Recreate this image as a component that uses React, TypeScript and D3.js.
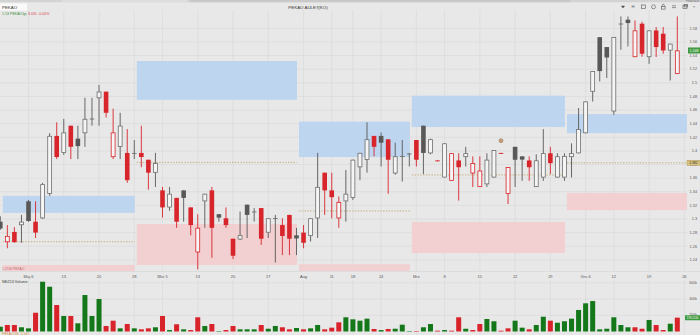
import React from "react";
import * as d3 from "d3";

// ---- data ----
const opens = [
  1.296, 1.266, 1.281, 1.291, 1.326, 1.296, 1.301, 1.337, 1.422, 1.397,
  1.437, 1.418, 1.426, 1.4465, 1.4775, 1.487, 1.391, 1.406, 1.397, 1.3965,
  1.397, 1.387, 1.368, 1.342, 1.317, 1.331, 1.342, 1.317, 1.251, 1.326,
  1.342, 1.307, 1.301, 1.271, 1.27, 1.321, 1.31, 1.316, 1.28, 1.3006,
  1.291, 1.306, 1.276, 1.28, 1.275, 1.301, 1.368, 1.342, 1.301, 1.326,
  1.331, 1.376, 1.387, 1.422, 1.422, 1.417, 1.367, 1.3918, 1.3958, 1.416,
  1.437, 1.3965, 1.386, 1.361, 1.356, 1.386, 1.391, 1.367, 1.347, 1.351,
  1.361, 1.397, 1.337, 1.406, 1.392, 1.386, 1.347, 1.361, 1.3965, 1.361,
  1.361, 1.391, 1.3965, 1.426, 1.487, 1.567, 1.5525, 1.458, 1.5865, 1.5927,
  1.5378, 1.5868, 1.5378, 1.5769, 1.5721, 1.5475, 1.5132,
];
const highs = [
  1.304, 1.291, 1.288, 1.306, 1.328, 1.326, 1.353, 1.426, 1.442, 1.447,
  1.437, 1.437, 1.478, 1.478, 1.497, 1.487, 1.462, 1.456, 1.432, 1.416,
  1.437, 1.387, 1.397, 1.347, 1.347, 1.331, 1.342, 1.317, 1.307, 1.337,
  1.347, 1.307, 1.317, 1.271, 1.311, 1.321, 1.316, 1.316, 1.301, 1.306,
  1.301, 1.306, 1.287, 1.291, 1.301, 1.397, 1.368, 1.368, 1.333, 1.372,
  1.387, 1.397, 1.442, 1.422, 1.427, 1.417, 1.412, 1.416, 1.397, 1.416,
  1.437, 1.418, 1.3865, 1.411, 1.3965, 1.3965, 1.406, 1.392, 1.392, 1.3965,
  1.401, 1.3972, 1.376, 1.406, 1.392, 1.392, 1.395, 1.432, 1.406, 1.3965,
  1.3965, 1.411, 1.463, 1.4725, 1.517, 1.567, 1.5525, 1.567, 1.5975, 1.5975,
  1.5916, 1.5897, 1.5769, 1.5819, 1.5819, 1.5574, 1.5975,
];
const lows = [
  1.284, 1.257, 1.265, 1.265, 1.296, 1.272, 1.3, 1.334, 1.388, 1.394,
  1.388, 1.388, 1.406, 1.437, 1.437, 1.449, 1.388, 1.388, 1.353, 1.388,
  1.376, 1.343, 1.347, 1.302, 1.312, 1.287, 1.296, 1.276, 1.226, 1.287,
  1.243, 1.296, 1.287, 1.241, 1.269, 1.272, 1.296, 1.262, 1.272, 1.236,
  1.247, 1.247, 1.247, 1.257, 1.267, 1.272, 1.306, 1.301, 1.287, 1.296,
  1.328, 1.357, 1.368, 1.392, 1.377, 1.337, 1.365, 1.355, 1.377, 1.377,
  1.366, 1.395, 1.385, 1.361, 1.356, 1.327, 1.377, 1.347, 1.347, 1.347,
  1.361, 1.3963, 1.322, 1.347, 1.356, 1.356, 1.347, 1.356, 1.366, 1.361,
  1.356, 1.361, 1.3965, 1.426, 1.4725, 1.502, 1.507, 1.453, 1.5485, 1.5534,
  1.5378, 1.5382, 1.5279, 1.5378, 1.5427, 1.5034, 1.5132,
];
const closes = [
  1.286, 1.275, 1.266, 1.296, 1.297, 1.28, 1.351, 1.422, 1.391, 1.427,
  1.406, 1.407, 1.447, 1.4475, 1.487, 1.456, 1.427, 1.437, 1.357, 1.397,
  1.391, 1.368, 1.382, 1.317, 1.337, 1.296, 1.331, 1.291, 1.287, 1.337,
  1.287, 1.302, 1.291, 1.246, 1.276, 1.306, 1.311, 1.271, 1.301, 1.3012,
  1.275, 1.271, 1.2714, 1.265, 1.301, 1.347, 1.342, 1.332, 1.325, 1.337,
  1.387, 1.397, 1.417, 1.406, 1.412, 1.387, 1.392, 1.3925, 1.3962, 1.387,
  1.397, 1.417, 1.3853, 1.411, 1.3965, 1.376, 1.3965, 1.382, 1.371, 1.387,
  1.401, 1.3966, 1.376, 1.387, 1.3872, 1.376, 1.386, 1.3965, 1.382, 1.392,
  1.3925, 1.3965, 1.432, 1.4725, 1.517, 1.5172, 1.5372, 1.567, 1.587, 1.5878,
  1.5769, 1.5427, 1.5769, 1.5525, 1.5475, 1.5574, 1.5475,
];
const volumes = [
  59000, 80000, 80000, 52000, 39000, 231000, 613000, 551000, 326000, 191000,
  191000, 101000, 449000, 191000, 400000, 68000, 133000, 39000, 92000, 39000,
  27000, 39000, 52000, 191000, 18000, 89000, 27000, 18000, 175000, 68000,
  92000, 6000, 18000, 68000, 27000, 27000, 27000, 80000, 34000, 68000,
  52000, 27000, 43000, 27000, 39000, 80000, 27000, 47000, 113000, 175000,
  150000, 133000, 158000, 31000, 18000, 31000, 34000, 84000, 6000, 6000,
  52000, 92000, 10000, 18000, 10000, 175000, 34000, 18000, 92000, 154000,
  126000, 10000, 39000, 133000, 47000, 27000, 80000, 182000, 133000, 108000,
  126000, 158000, 265000, 347000, 375000, 27000, 34000, 175000, 80000, 52000,
  52000, 34000, 142000, 80000, 18000, 96000, 170510,
];

const xTickIndex = [4, 9, 14, 19, 23, 28, 33, 38, 43, 47, 50, 54, 59, 63, 68, 73, 78, 83, 87, 92, 97];
const xTickLabels = ["Maj 6", "13", "20", "28", "Wrz 5", "13", "20", "27", "Aug", "11", "18", "24", "Mrz", "8", "15", "22", "29", "Gru 6", "12", "19", "26"];
const priceTicks = [1.24, 1.26, 1.28, 1.3, 1.32, 1.34, 1.36, 1.38, 1.4, 1.42, 1.44, 1.46, 1.48, 1.5, 1.52, 1.54, 1.56, 1.58];
const volumeTicks = [200000, 400000, 600000];

// zones: start/end index, blue (upper) range, pink (lower) range, mid level
const zoneStart = [0, 19, 42, 58, 80];
const zoneEnd = [19, 42, 58, 80, 97.3];
const blueLow = [1.309, 1.475, 1.391, 1.435, 1.426];
const blueHigh = [1.334, 1.532, 1.443, 1.481, 1.454];
const pinkLow = [1.2, 1.2324, 1.2, 1.25, 1.313];
const pinkHigh = [1.2325, 1.2926, 1.2335, 1.2956, 1.338];
const midLevel = [1.2666, 1.3831, 1.3118, 1.3647, 1.3824];

const markerIndex = [71];
const markerPrice = [1.415];

const FONT = "'Liberation Sans', Arial, sans-serif";
const RED = "#d8252b";
const DARK = "#585858";
const GRAYLINE = "#6e6e6e";
const VGREEN = "#14781a";
const VRED = "#d8232a";

export default function App() {
  const n = closes.length;
  const x = d3.scaleLinear().domain([0, n - 1]).range([0.3, 677.3]);
  const y = d3.scaleLinear().domain([1.228, 1.604]).range([268, 12]);
  const yv = d3.scaleLinear().domain([0, 600000]).range([331.5, 282.75]);
  const bw = 4.6;
  const vbw = 5;
  const fmtP = (v: number) => String(+v.toFixed(2));
  const fmtK = (v: number) => `${v / 1000}k`;

  const candles = closes.map((c, i) => {
    const o = opens[i];
    const isRed = i > 0 && c < closes[i - 1];
    const hollow = c > o;
    const col = isRed ? RED : hollow ? GRAYLINE : DARK;
    const top = y(Math.max(o, c));
    const bot = y(Math.min(o, c));
    const h = Math.max(bot - top, 0.9);
    const cx = x(i);
    return (
      <g key={i}>
        <line x1={cx} x2={cx} y1={y(highs[i])} y2={y(lows[i])} stroke={isRed ? RED : DARK} strokeWidth={0.9} />
        {hollow && h > 1.2 ? (
          <rect x={cx - bw / 2 + 0.35} y={top + 0.35} width={bw - 0.7} height={h - 0.7} fill="#f5f5f5" stroke={col} strokeWidth={0.8} />
        ) : (
          <rect x={cx - bw / 2} y={top} width={bw} height={h} fill={col} />
        )}
      </g>
    );
  });

  const vols = volumes.map((v, i) => {
    const red = i > 0 && closes[i] < closes[i - 1];
    return (
      <rect key={i} x={x(i) - vbw / 2} y={yv(v)} width={vbw} height={yv(0) - yv(v)} fill={red ? VRED : VGREEN} />
    );
  });

  const lastClose = closes[n - 1];
  const lastVol = volumes[n - 1];
  const tagLevel = midLevel[midLevel.length - 1];

  return (
    <svg width={700} height={335} style={{ position: "absolute", left: 0, top: 0 }} fontFamily={FONT}>
      <defs>
        <clipPath id="plotClip">
          <rect x={0} y={10} width={687} height={261} />
        </clipPath>
      </defs>
      <rect x={0} y={0} width={700} height={335} fill="#e8e8e8" />
      {/* top strip */}
      <rect x={0} y={0} width={700} height={2.2} fill="#d3d3d3" />
      <rect x={62} y={0} width={125} height={2.2} fill="#dedede" />
      <rect x={190} y={0} width={380} height={2.2} fill="#c9c9c9" />

      {/* grid */}
      {priceTicks.map((t) => (
        <line key={"hg" + t} x1={0} x2={687} y1={y(t)} y2={y(t)} stroke="#dadada" strokeWidth={0.7} />
      ))}
      {xTickIndex.map((t, k) => (
        <g key={"vg" + k}>
          <line x1={x(t)} x2={x(t)} y1={10} y2={271} stroke="#dadada" strokeWidth={0.7} />
          <line x1={x(t)} x2={x(t)} y1={280} y2={335} stroke="#dadada" strokeWidth={0.7} />
        </g>
      ))}
      {volumeTicks.map((t) => (
        <line key={"vh" + t} x1={0} x2={687} y1={yv(t)} y2={yv(t)} stroke="#dadada" strokeWidth={0.7} />
      ))}

      {/* zones */}
      <g clipPath="url(#plotClip)">
        {zoneStart.map((s, k) => {
          const x0 = x(s) + 2.5;
          const x1 = x(zoneEnd[k]) + 0.5;
          return (
            <g key={"z" + k}>
              <rect x={x0} y={y(blueHigh[k])} width={x1 - x0} height={y(blueLow[k]) - y(blueHigh[k])} fill="#bdd5ee" />
              <rect x={x0} y={y(pinkHigh[k])} width={x1 - x0} height={y(pinkLow[k]) - y(pinkHigh[k])} fill="#f2cfd1" />
              <line x1={x0} x2={x1} y1={y(midLevel[k])} y2={y(midLevel[k])} stroke="#b59a55" strokeWidth={0.7} strokeDasharray="1.4,1.4" />
            </g>
          );
        })}
        {candles}
        {markerIndex.map((mi, k) => (
          <circle key={"m" + k} cx={x(mi)} cy={y(markerPrice[k])} r={2} fill="#c9a07a" stroke="#8c6a4c" strokeWidth={0.5} />
        ))}
      </g>

      <line x1={0} x2={700} y1={271.5} y2={271.5} stroke="#d4d4d4" strokeWidth={0.6} />

      {/* price axis labels */}
      {priceTicks.map((t) => (
        <text key={"pl" + t} x={697} y={y(t) + 1.3} fontSize={3.8} fill="#555" textAnchor="end">
          {fmtP(t)}
        </text>
      ))}
      {/* level tag */}
      <rect x={687} y={y(tagLevel) - 2.6} width={13} height={5} fill="#d8c27c" stroke="#a88d45" strokeWidth={0.4} />
      <text x={693.5} y={y(tagLevel) + 1.1} fontSize={3.4} fill="#333" textAnchor="middle">
        {tagLevel.toFixed(3)}
      </text>
      {/* last price tag */}
      <rect x={688} y={y(lastClose) - 3} width={12} height={6} fill="#3f9a3f" />
      <text x={694} y={y(lastClose) + 1.3} fontSize={3.6} fill="#fff" textAnchor="middle">
        {lastClose.toFixed(3)}
      </text>

      {/* x labels */}
      {xTickIndex.map((t, k) => (
        <text key={"xl" + k} x={x(t)} y={277.6} fontSize={4} fill="#555" textAnchor="middle">
          {xTickLabels[k]}
        </text>
      ))}

      {/* volume panel */}
      <text x={2} y={283} fontSize={3.8} fill="#444">NEZ24 Volume</text>
      {vols}
      {volumeTicks.map((t) => (
        <text key={"vl" + t} x={697} y={yv(t) + 0.8} fontSize={3.6} fill="#555" textAnchor="end">
          {fmtK(t)}
        </text>
      ))}
      <rect x={685} y={yv(lastVol) - 2.4} width={15} height={5} fill="#3f9a3f" />
      <text x={692.5} y={yv(lastVol) + 1.2} fontSize={3.3} fill="#fff" textAnchor="middle">
        {(lastVol / 1000).toFixed(2) + "k"}
      </text>
      <text x={2} y={334.5} fontSize={3.4} fill="#d08a3a">PEKAO/GC 1.547</text>

      {/* header */}
      <rect x={0} y={3.5} width={27} height={7} fill="#fafafa" />
      <text x={2} y={8.6} fontSize={4.4} fill="#333">PEKAO</text>
      <text x={2} y={15} fontSize={3.6} fill="#3a8f3a">1.53 PEKAO/gc</text>
      <text x={28} y={15} fontSize={3.6} fill="#d8464a">3.031 -0.00%</text>
      <text x={308} y={8.5} fontSize={4.4} fill="#333" textAnchor="middle">PEKAO AULE7(KO)</text>
      <text x={2} y={269.5} fontSize={3.3} fill="#c76a6a">1.2700 PEKAO</text>

      {/* toolbar icons */}
      <g fill="none" stroke="#555" strokeWidth={0.6}>
        <path d="M621.5,6 L624.5,6 L623,8 Z" fill="#555" />
        <rect x={641.5} y={5} width={4} height={3.5} />
        <circle cx={653.5} cy={6.8} r={2} />
        <rect x={661.5} y={6.3} width={3.6} height={2.8} />
        <path d="M662.3,6.3 V5.2 A1,1 0 0 1 664.3,5.2 V6.3" />
        <line x1={672} x2={676} y1={5.8} y2={5.8} />
        <line x1={672} x2={676} y1={7.6} y2={7.6} />
        <rect x={683} y={5.2} width={4} height={3.2} />
        <rect x={684.2} y={4.3} width={3.4} height={2.6} />
      </g>
      <text x={633} y={8.3} fontSize={4.2} fill="#555" textAnchor="middle">H</text>
      <text x={694} y={8.4} fontSize={4.4} fill="#555" textAnchor="middle">×</text>
      <text x={699} y={2} fontSize={2.6} fill="#666" textAnchor="end">Pekao B2B</text>
    </svg>
  );
}
